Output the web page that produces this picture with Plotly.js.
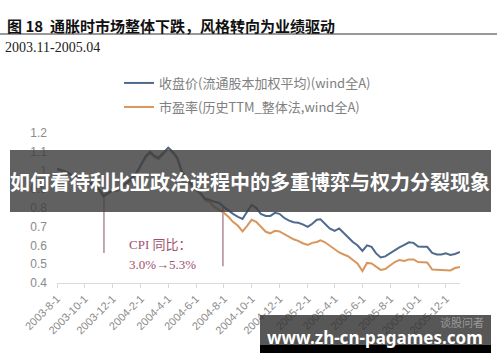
<!DOCTYPE html>
<html>
<head>
<meta charset="utf-8">
<script src="https://cdn.plot.ly/plotly-3.0.1.min.js"></script>
<style>html,body{margin:0;padding:0;background:#fff;}#chart{width:500px;height:362px;}</style>
</head>
<body>
<div id="chart"></div>
<script>
// ---- data ----
const dates = [
 '2003-08-01','2003-08-11','2003-08-21','2003-09-01','2003-09-11','2003-09-21',
 '2003-10-01','2003-10-11','2003-10-21','2003-11-01','2003-11-11','2003-11-21',
 '2003-12-01','2003-12-11','2003-12-21','2004-01-01','2004-01-11','2004-01-21',
 '2004-02-01','2004-02-11','2004-02-21','2004-03-01','2004-03-11','2004-03-21',
 '2004-04-01','2004-04-11','2004-04-21','2004-05-01','2004-05-11','2004-05-21',
 '2004-06-01','2004-06-11','2004-06-21','2004-07-01','2004-07-11','2004-07-21',
 '2004-08-01','2004-08-11','2004-08-21','2004-09-01','2004-09-11','2004-09-21',
 '2004-10-01','2004-10-11','2004-10-21','2004-11-01','2004-11-11','2004-11-21',
 '2004-12-01','2004-12-11','2004-12-21','2005-01-01','2005-01-11','2005-01-21',
 '2005-02-01','2005-02-11','2005-02-21','2005-03-01','2005-03-11','2005-03-21',
 '2005-04-01','2005-04-11','2005-04-21','2005-05-01','2005-05-11','2005-05-21',
 '2005-06-01','2005-06-11','2005-06-21','2005-07-01','2005-07-11','2005-07-21',
 '2005-08-01','2005-08-11','2005-08-21','2005-09-01','2005-09-11','2005-09-21',
 '2005-10-01','2005-10-11','2005-10-21','2005-11-01','2005-11-11','2005-11-21',
 '2005-12-01','2005-12-11','2005-12-21','2006-01-01'
];
const closePrice = [
 1.010,1.004,0.994, 0.978,0.970,0.961, 0.948,0.937,0.924, 0.903,0.865,0.881,
 0.897,0.897,0.913, 0.935,0.956,0.983, 1.031,1.074,1.100, 1.079,1.068,1.095,
 1.122,1.100,1.068, 0.994,0.967,0.929, 0.903,0.881,0.849, 0.844,0.833,0.828,
 0.806,0.785,0.769, 0.753,0.742,0.780, 0.817,0.801,0.769, 0.758,0.758,0.774,
 0.769,0.748,0.734, 0.724,0.721,0.713, 0.699,0.716,0.737, 0.740,0.718,0.691,
 0.678,0.691,0.667, 0.641,0.619,0.601, 0.571,0.601,0.593, 0.558,0.536,0.542,
 0.560,0.576,0.590, 0.603,0.617,0.614, 0.595,0.593,0.593, 0.560,0.552,0.552,
 0.558,0.550,0.555, 0.566
];
const peRatio = [
 1.004,0.998,0.988, 0.972,0.964,0.955, 0.942,0.931,0.918, 0.897,0.859,0.875,
 0.891,0.891,0.907, 0.929,0.950,0.977, 1.024,1.066,1.092, 1.071,1.060,1.087,
 1.114,1.092,1.060, 0.986,0.959,0.921, 0.895,0.873,0.841, 0.833,0.806,0.790,
 0.774,0.753,0.726, 0.705,0.675,0.705, 0.737,0.726,0.699, 0.673,0.665,0.678,
 0.675,0.662,0.646, 0.633,0.625,0.612, 0.603,0.614,0.619, 0.627,0.617,0.598,
 0.579,0.563,0.552, 0.542,0.523,0.504, 0.464,0.507,0.504, 0.486,0.470,0.475,
 0.496,0.512,0.523, 0.518,0.526,0.526, 0.512,0.512,0.510, 0.472,0.470,0.470,
 0.467,0.467,0.480, 0.486
];
const seriesNames = ['收盘价(流通股本加权平均)(wind全A)', '市盈率(历史TTM_整体法,wind全A)'];
const tickDates = ['2003-08-01','2003-10-01','2003-12-01','2004-02-01','2004-04-01','2004-06-01',
 '2004-08-01','2004-10-01','2004-12-01','2005-02-01','2005-04-01','2005-06-01','2005-08-01',
 '2005-10-01','2005-12-01'];
const tickLabels = ['2003-8-1','2003-10-1','2003-12-1','2004-2-1','2004-4-1','2004-6-1',
 '2004-8-1','2004-10-1','2004-12-1','2005-2-1','2005-4-1','2005-6-1','2005-8-1',
 '2005-10-1','2005-12-1'];
const yTicks = [0.4,0.5,0.6,0.7,0.8,0.9,1,1.1,1.2];
const yTickLabels = ['0.4','0.5','0.6','0.7','0.8','0.9','1','1.1','1.2'];
const cpiMarkDates = ['2003-11-12','2004-07-30'];
const cpiMarkTop = [0.86, 0.81];
const cpiMarkBottom = [0.56, 0.49];
const titleText = '图 18  通胀时市场整体下跌，风格转向为业绩驱动';
const subtitleText = '2003.11-2005.04';
const cpiLabel1 = 'CPI 同比：';
const cpiLabel2 = '3.0%→5.3%';
const bannerText = '如何看待利比亚政治进程中的多重博弈与权力分裂现象';
const siteText = 'www.zh-cn-pagames.com';
const sourceText = '谈股问者';

// ---- layout helpers (pixel -> paper) ----
const L = 57, R = 40, T = 133, B = 79, W = 500, H = 362;
const pw = W - L - R, ph = H - T - B;
const px = v => (v - L) / pw;
const py = v => (H - B - v) / ph;

const cjk = 'Noto Sans CJK SC, Noto Sans, sans-serif';
const blue = '#4e6a8c';
const orange = '#d8965c';

const traces = [
  {x: dates, y: peRatio, type: 'scatter', mode: 'lines', name: seriesNames[1],
   line: {color: orange, width: 2}, legend: 'legend2'},
  {x: dates, y: closePrice, type: 'scatter', mode: 'lines', name: seriesNames[0],
   line: {color: blue, width: 2}, legend: 'legend'}
];

const shapes = [];
for (let i = 0; i < cpiMarkDates.length; i++) {
  shapes.push({type: 'line', xref: 'x', yref: 'y', x0: cpiMarkDates[i], x1: cpiMarkDates[i],
    y0: cpiMarkTop[i], y1: cpiMarkBottom[i], line: {color: '#9c6c7c', width: 1.2}, layer: 'below'});
}
// title rule
shapes.push({type: 'line', xref: 'paper', yref: 'paper', x0: px(0), x1: px(497), y0: py(34), y1: py(34),
  line: {color: '#333', width: 1}, layer: 'above'});
// banner
shapes.push({type: 'rect', xref: 'paper', yref: 'paper', x0: px(10), x1: px(491), y0: py(212), y1: py(150),
  fillcolor: 'rgba(62,62,62,0.82)', line: {width: 0}, layer: 'above'});
// watermark box
shapes.push({type: 'rect', xref: 'paper', yref: 'paper', x0: px(260), x1: px(491), y0: py(345), y1: py(315),
  fillcolor: 'rgba(50,50,50,0.82)', line: {width: 0}, layer: 'above'});
shapes.push({type: 'rect', xref: 'paper', yref: 'paper', x0: px(260), x1: px(491), y0: py(353), y1: py(345),
  fillcolor: '#000', line: {width: 0}, layer: 'above'});

const annotations = [
  {text: '<b>' + titleText + '</b>', xref: 'paper', yref: 'paper', x: px(5), y: py(25),
   xanchor: 'left', yanchor: 'middle', showarrow: false, font: {family: cjk, size: 15, color: '#111'}},
  {text: subtitleText, xref: 'paper', yref: 'paper', x: px(3), y: py(47),
   xanchor: 'left', yanchor: 'middle', showarrow: false, font: {family: 'Liberation Serif, serif', size: 14, color: '#222'}},
  {text: cpiLabel1, xref: 'paper', yref: 'paper', x: px(127), y: py(244),
   xanchor: 'left', yanchor: 'middle', showarrow: false, font: {family: 'Liberation Serif, Noto Sans CJK SC, serif', size: 13, color: '#a0506e'}},
  {text: cpiLabel2, xref: 'paper', yref: 'paper', x: px(127), y: py(264),
   xanchor: 'left', yanchor: 'middle', showarrow: false, font: {family: 'Liberation Serif, serif', size: 13, color: '#a0506e'}},
  {text: '<b>' + bannerText + '</b>', xref: 'paper', yref: 'paper', x: px(250), y: py(181),
   xanchor: 'center', yanchor: 'middle', showarrow: false, font: {family: cjk, size: 20, color: '#fff'}},
  {text: sourceText, xref: 'paper', yref: 'paper', x: px(462), y: py(322),
   xanchor: 'center', yanchor: 'middle', showarrow: false, font: {family: cjk, size: 11, color: '#9a9a9a'}},
  {text: '<b>' + siteText + '</b>', xref: 'paper', yref: 'paper', x: px(375), y: py(337),
   xanchor: 'center', yanchor: 'middle', showarrow: false, font: {family: 'Noto Sans, DejaVu Sans, sans-serif', size: 17, color: '#fff'}}
];

const legendBase = {
  xanchor: 'left', yanchor: 'middle', bgcolor: 'rgba(0,0,0,0)', borderwidth: 0,
  font: {family: cjk, size: 13, color: '#808080'}, itemclick: false
};

const layout = {
  width: W, height: H,
  margin: {l: L, r: R, t: T, b: B, pad: 0},
  paper_bgcolor: '#fff', plot_bgcolor: '#fff',
  showlegend: true,
  legend: Object.assign({}, legendBase, {x: px(119), y: py(83)}),
  legend2: Object.assign({}, legendBase, {x: px(119), y: py(107)}),
  xaxis: {
    type: 'date', range: ['2003-08-01', '2006-01-01'],
    tickvals: tickDates, ticktext: tickLabels, tickangle: -45,
    showgrid: false, zeroline: false, showline: true, linecolor: '#d9d9d9', linewidth: 1,
    ticks: 'outside', ticklen: 4, tickcolor: '#d9d9d9',
    tickfont: {family: 'Liberation Sans, Arial, sans-serif', size: 11, color: '#8a8a8a'}
  },
  yaxis: {
    range: [0.4, 1.2], tickvals: yTicks, ticktext: yTickLabels,
    showgrid: false, zeroline: false, showline: false, ticks: '',
    ticklabelstandoff: 9,
    tickfont: {family: 'Liberation Sans, Arial, sans-serif', size: 12, color: '#8a8a8a'}
  },
  shapes: shapes,
  annotations: annotations
};

Plotly.newPlot('chart', traces, layout, {staticPlot: true, displayModeBar: false});
</script>
</body>
</html>
